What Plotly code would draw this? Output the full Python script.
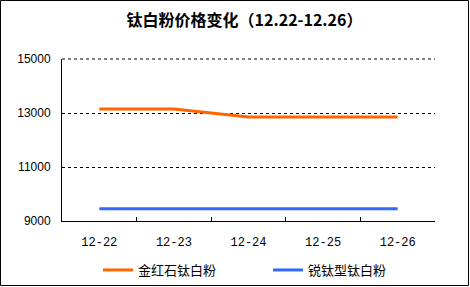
import plotly.graph_objects as go

dates = ["12-22", "12-23", "12-24", "12-25", "12-26"]
rutile = [13150, 13150, 12850, 12850, 12850]
anatase = [9450, 9450, 9450, 9450, 9450]
y_ticks = [9000, 11000, 13000, 15000]
y_tick_text = ["9000", "11000", "13000", "15000"]

W, H = 470, 287
L, R, T, B = 62, 35, 59, 66
PW, PH = W - L - R, H - T - B

def px(x):
    return (x - L) / PW

def py(y):
    return (H - B - y) / PH

fig = go.Figure()
fig.add_trace(go.Scatter(x=dates, y=rutile, mode="lines", name="金红石钛白粉",
                         line=dict(color="#FF6600", width=3)))
fig.add_trace(go.Scatter(x=dates, y=anatase, mode="lines", name="锐钛型钛白粉",
                         line=dict(color="#3366FF", width=3)))

fig.update_layout(
    width=W, height=H,
    margin=dict(l=L, r=R, t=T, b=B, autoexpand=False),
    paper_bgcolor="white", plot_bgcolor="white",
    title=dict(text="<b>钛白粉价格变化（12.22-12.26）</b>",
               font=dict(family="Noto Sans CJK SC", size=16, color="black"),
               x=(230) / W, xanchor="center", xref="paper",
               y=1 - 20 / H, yanchor="middle"),
    showlegend=True,
    legend=dict(orientation="h", x=px(98), xanchor="left", y=py(270), yanchor="middle",
                font=dict(family="Noto Sans CJK SC", size=13, color="black"),
                entrywidth=125, entrywidthmode="pixels", bgcolor="rgba(0,0,0,0)"),
    xaxis=dict(type="category", range=[-0.5, 4.5], showgrid=False,
               showline=True, linecolor="black", linewidth=1,
               ticks="inside", tickson="boundaries", ticklen=4, tickcolor="black",
               tickfont=dict(family="Liberation Mono", size=12, color="black"),
               ticklabelstandoff=10, zeroline=False, mirror=False),
    yaxis=dict(range=[9000, 15000], tickvals=y_ticks, ticktext=y_tick_text, showgrid=True,
               gridcolor="black", gridwidth=1, griddash="3px,3px",
               showline=True, linecolor="black", linewidth=1, ticks="",
               tickfont=dict(family="Liberation Sans", size=12, color="black"),
               ticklabelstandoff=8, zeroline=False),
    shapes=[dict(type="rect", xref="paper", yref="paper",
                 x0=px(0.5), x1=px(468.5), y0=py(0.5), y1=py(285.5),
                 line=dict(color="black", width=1), layer="below"),
            dict(type="line", xref="paper", yref="paper", x0=0, x1=1,
                 y0=1, y1=1,
                 line=dict(color="black", width=1, dash="3px,3px"), layer="above")],
)

fig.write_html("out.html")
